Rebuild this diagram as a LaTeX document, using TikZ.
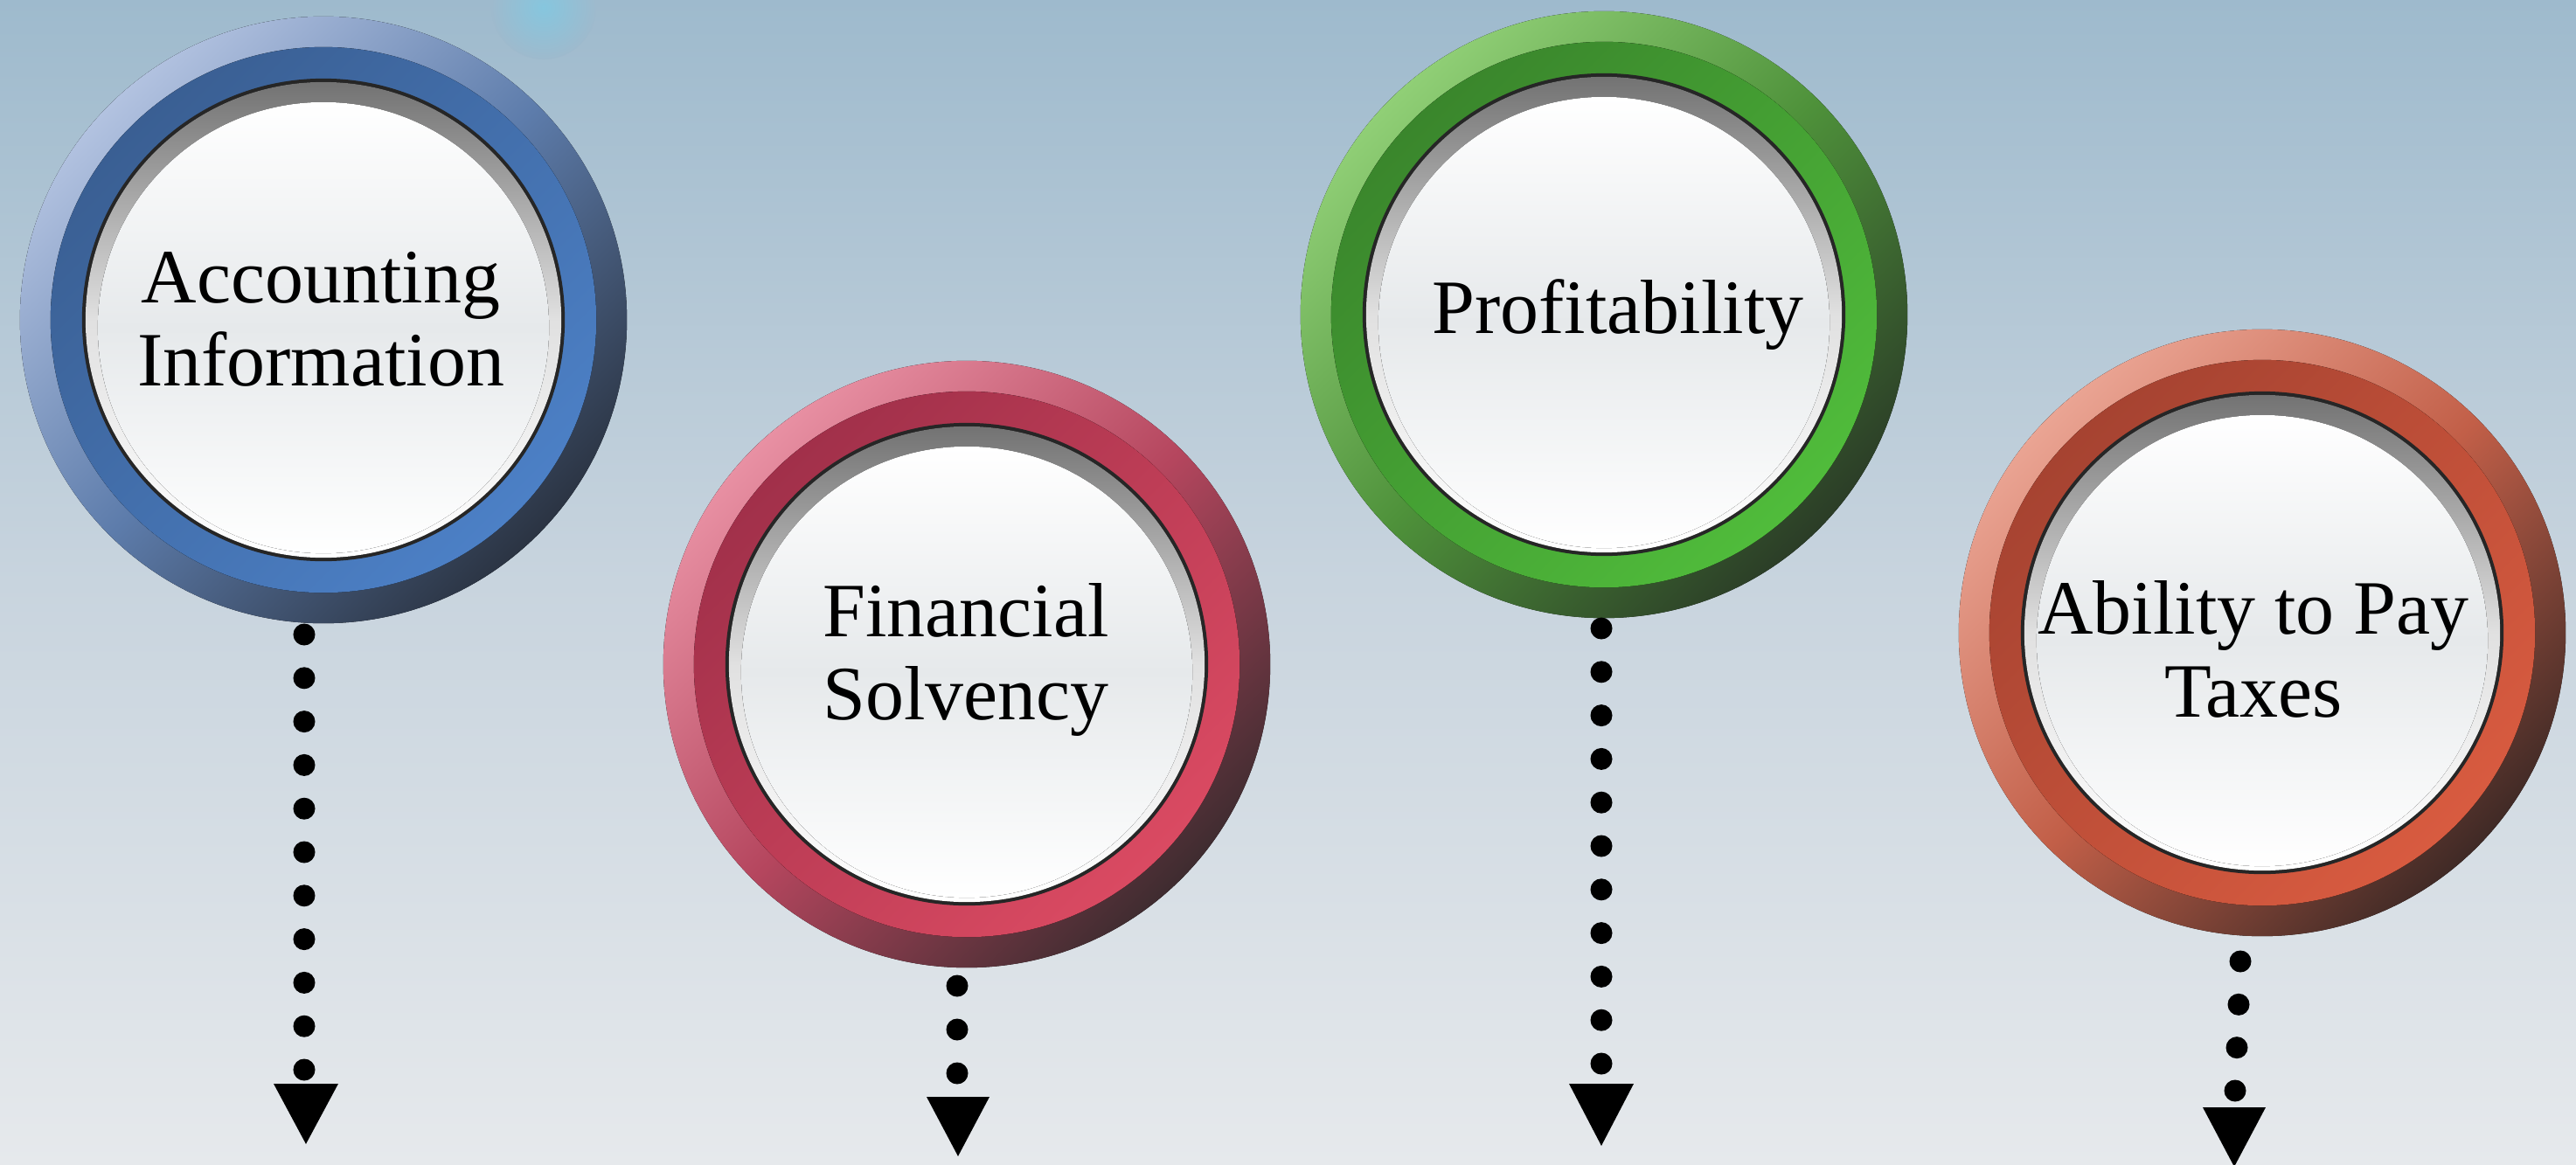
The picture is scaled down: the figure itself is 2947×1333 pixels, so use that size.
\documentclass[tikz,border=0pt]{standalone}
\usepackage{fontspec}
\setmainfont{Liberation Serif}
\usetikzlibrary{calc}
\definecolor{bgtop}{HTML}{9EBACD}
\definecolor{bgmid}{HTML}{C8D4DE}
\definecolor{bgbot}{HTML}{E6E9EC}
\definecolor{blobc}{HTML}{86C6DE}
% blue
\definecolor{bL}{HTML}{B2C2E0}\definecolor{bM}{HTML}{5D7CAB}\definecolor{bD}{HTML}{2B3443}
\definecolor{bB}{HTML}{3A5F93}\definecolor{bH}{HTML}{4C80C6}
% pink
\definecolor{pL}{HTML}{E890A3}\definecolor{pM}{HTML}{B5465E}\definecolor{pD}{HTML}{3F2C30}
\definecolor{pB}{HTML}{A1304A}\definecolor{pH}{HTML}{DA4A62}
% green
\definecolor{gL}{HTML}{90CF76}\definecolor{gM}{HTML}{4E913A}\definecolor{gD}{HTML}{2B3D27}
\definecolor{gB}{HTML}{3A862C}\definecolor{gH}{HTML}{50BC3B}
% orange
\definecolor{oL}{HTML}{EAA493}\definecolor{oM}{HTML}{C25F48}\definecolor{oD}{HTML}{402A26}
\definecolor{oB}{HTML}{A64331}\definecolor{oH}{HTML}{D85B40}
\definecolor{innergray}{HTML}{E6E9EB}
\newcommand\drawbutton[7]{%
  \fill[top color=#3, bottom color=#5, middle color=#4, shading angle=45] (#1,#2) circle[radius=3.47cm];
  \fill[top color=#6, bottom color=#7, shading angle=45] (#1,#2) circle[radius=3.12cm];
  \fill[black!85] (#1,#2) circle[radius=2.76cm];
  \fill[top color=black!55, bottom color=white, middle color=black!12] (#1,#2) circle[radius=2.72cm];
  \fill[top color=white, bottom color=white, middle color=innergray] (#1,#2+9) circle[radius=2.58cm];
}
\tikzset{
  lbl/.style={font=\fontsize{25}{27}\selectfont, align=center, text=black, inner sep=0pt},
  dotc/.style={fill=black},
  headc/.style={fill=black},
}
\begin{document}
\begin{tikzpicture}[x=0.01cm, y=-0.01cm]
\useasboundingbox (0,0) rectangle (2947,1333);
\fill[top color=bgtop, bottom color=bgbot, middle color=bgmid] (0,0) rectangle (2947,1333);
\begin{scope}
\clip (0,0) rectangle (2947,1333);
\shade[inner color=blobc, outer color=bgtop] (622,8) circle[radius=0.6cm];
\end{scope}

% buttons
\drawbutton{370}{366}{bL}{bM}{bD}{bB}{bH}
\drawbutton{1106}{760}{pL}{pM}{pD}{pB}{pH}
\drawbutton{1835}{360}{gL}{gM}{gD}{gB}{gH}
\drawbutton{2588}{724}{oL}{oM}{oD}{oB}{oH}

% labels
\node[lbl, anchor=base] (b1) at (367,441) {Accounting\\Information};
\node[lbl, anchor=base] (b2) at (1105,823) {Financial\\Solvency};
\node[lbl, anchor=base] (b3) at (1851,381) {Profitability};
\node[lbl, anchor=base] (b4) at (2578,820) {Ability to Pay\\Taxes};

% connectors
\coordinate (d1s) at (348,726);  \coordinate (d1e) at (348,1224); \coordinate (h1) at (350,1240);
\coordinate (d2s) at (1095,1128); \coordinate (d2e) at (1095,1228); \coordinate (h2) at (1096,1255);
\coordinate (d3s) at (1832,719);  \coordinate (d3e) at (1832,1217); \coordinate (h3) at (1832,1240);
\coordinate (d4s) at (2563,1100); \coordinate (d4e) at (2557,1248); \coordinate (h4) at (2556,1267);

\foreach \k in {0,...,10} \fill[dotc] ($(d1s)!\k/10!(d1e)$) circle[radius=0.125cm];
\foreach \k in {0,...,2}  \fill[dotc] ($(d2s)!\k/2!(d2e)$) circle[radius=0.125cm];
\foreach \k in {0,...,10} \fill[dotc] ($(d3s)!\k/10!(d3e)$) circle[radius=0.125cm];
\foreach \k in {0,...,3}  \fill[dotc] ($(d4s)!\k/3!(d4e)$) circle[radius=0.125cm];

\fill[headc] (h1) ++(-37,0) -- ++(74,0) -- ++(-37,69) -- cycle;
\fill[headc] (h2) ++(-36,0) -- ++(72,0) -- ++(-36,68) -- cycle;
\fill[headc] (h3) ++(-37,0) -- ++(74,0) -- ++(-37,71) -- cycle;
\fill[headc] (h4) ++(-36,0) -- ++(72,0) -- ++(-36,68) -- cycle;
\end{tikzpicture}
\end{document}
